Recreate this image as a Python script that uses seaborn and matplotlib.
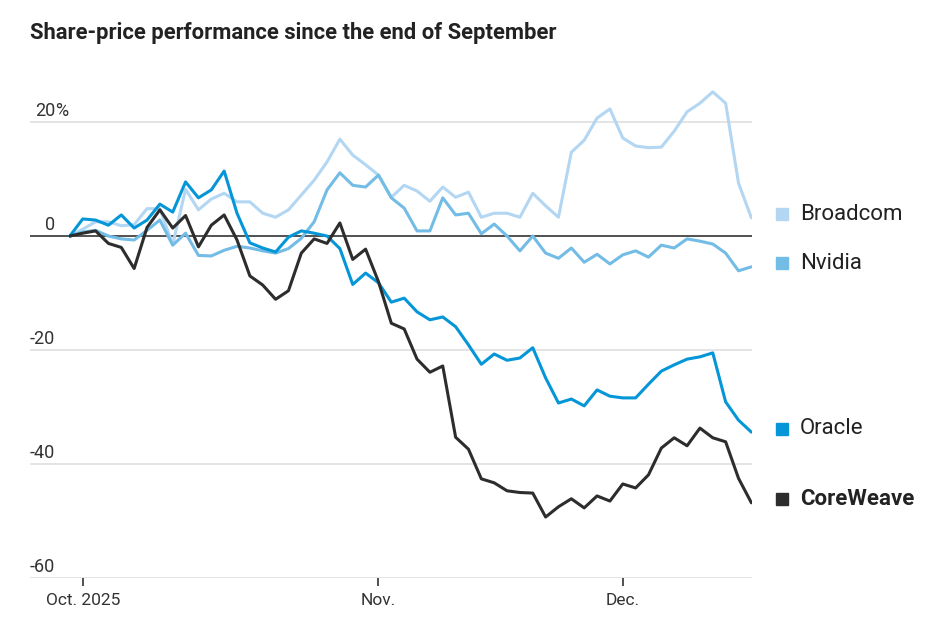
import pandas as pd
import matplotlib.pyplot as plt
import matplotlib.transforms as mtransforms
import seaborn as sns

# trading days from Sep 30 (index 0) to mid-December
broadcom = [0, 1.2, 2.5, 2.5, 1.8, 2.0, 4.8, 4.8, -1.5, 8.2,
            4.6, 6.5, 7.5, 6.0, 6.0, 4.0, 3.3, 4.6, 7.2, 9.8,
            13.0, 17.0, 14.2, 12.5, 10.7, 6.8, 8.9, 7.9, 6.1, 8.6,
            6.8, 7.7, 3.3, 4.0, 4.0, 3.3, 7.5, 5.3, 3.3, 14.7,
            16.8, 20.7, 22.3, 17.2, 15.8, 15.5, 15.6, 18.4, 21.8, 23.3,
            25.3, 23.3, 9.3, 3.2]
nvidia = [0, 0.7, 1.0, 0.0, -0.5, -0.7, 1.0, 2.8, -1.6, 0.5,
          -3.4, -3.5, -2.5, -1.8, -2.1, -2.6, -3.0, -2.2, -0.4, 2.5,
          8.1, 11.1, 8.9, 8.6, 10.7, 6.7, 4.9, 0.9, 0.9, 6.7,
          3.7, 4.0, 0.4, 2.1, 0.0, -2.6, 0.0, -3.0, -3.9, -2.1,
          -4.6, -3.2, -4.9, -3.3, -2.6, -3.7, -1.6, -2.1, -0.5, -0.9,
          -1.4, -3.0, -6.1, -5.4]
oracle = [0, 3.0, 2.8, 1.9, 3.7, 1.4, 2.8, 5.6, 4.2, 9.5,
          6.7, 8.1, 11.4, 4.0, -1.2, -2.1, -2.8, -0.2, 0.9, 0.5,
          0.0, -2.2, -8.5, -6.5, -8.2, -11.6, -10.9, -13.3, -14.7, -14.2,
          -15.9, -19.1, -22.5, -20.7, -21.8, -21.4, -19.6, -24.9, -29.3, -28.6,
          -29.8, -27.0, -28.1, -28.4, -28.4, -26.0, -23.7, -22.6, -21.6, -21.2,
          -20.5, -29.1, -32.3, -34.4]
coreweave = [0, 0.5, 0.9, -1.3, -2.0, -5.7, 1.5, 4.6, 1.4, 3.6,
             -1.9, 1.9, 3.7, -0.7, -7.0, -8.6, -11.1, -9.6, -3.0, -0.5,
             -1.3, 2.3, -4.1, -2.3, -8.0, -15.3, -16.3, -21.6, -23.9, -22.8,
             -35.3, -37.4, -42.6, -43.3, -44.7, -45.0, -45.1, -49.3, -47.5, -46.1,
             -47.7, -45.6, -46.5, -43.5, -44.2, -41.9, -37.2, -35.4, -36.8, -33.7,
             -35.4, -36.1, -42.5, -46.8]

companies = ["Broadcom", "Nvidia", "Oracle", "CoreWeave"]
colors = ["#b3d6f2", "#72bce6", "#0596d8", "#2d2d2d"]
month_ticks = [1, 24, 43]
month_labels = ["Oct. 2025", "Nov.", "Dec."]
y_ticks = [20, 0, -20, -40, -60]

series = dict(zip(companies, [broadcom, nvidia, oracle, coreweave]))
df = pd.concat([pd.DataFrame({"day": range(len(v)), "change": v, "company": k})
                for k, v in series.items()])

sns.set_style("white")
plt.rcParams['font.family'] = ['Liberation Sans Narrow', 'Roboto', 'DejaVu Sans']

fig = plt.figure(figsize=(9.27, 6.19), dpi=100)
ax = fig.add_axes([30 / 927, 1 - 578 / 619, 722 / 927, 493 / 619])

# grid lines
for yv in [20, -20, -40, -60]:
    ax.axhline(yv, color="#e2e2e2", lw=1.3, zorder=0)
ax.axhline(0, color="#333333", lw=1.2, zorder=1)

sns.lineplot(data=df, x="day", y="change", hue="company", hue_order=companies,
             palette=colors, linewidth=2.2, legend=False, ax=ax, zorder=3)

ax.set_xlim(-3.1, 53.05)
ax.set_ylim(-60, 26.5)
for s in ax.spines.values():
    s.set_visible(False)

ax.set_xticks(month_ticks)
ax.set_xticklabels(month_labels, fontsize=12.5, color="#333333")
ax.tick_params(axis="x", bottom=True, length=6, width=1.2, color="#333333",
               pad=5, direction="out")
ax.set_yticks([])
ax.set_xlabel("")
ax.set_ylabel("")

# y labels sit above the grid lines on the left
ytrans = mtransforms.blended_transform_factory(ax.transAxes, ax.transData)
for yv in y_ticks:
    ax.text(25 / 722, yv + 0.3, str(yv), ha="right", va="bottom",
            fontsize=13, color="#333333", transform=ytrans)
ax.text(25 / 722, 20.3, "%", ha="left", va="bottom", fontsize=13,
        color="#333333", transform=ytrans)

# end labels
for name, col in zip(companies, colors):
    yv = series[name][-1] + 0.6
    ax.plot([1.0416], [yv], marker="s", ms=9, color=col, transform=ytrans, clip_on=False)
    ax.text(1.0665, yv, name, ha="left", va="center", fontsize=16,
            color="#222222", transform=ytrans,
            fontweight="bold" if name == "CoreWeave" else "normal")

fig.text(30 / 927, 1 - 33 / 619, "Share-price performance since the end of September",
         ha="left", va="center", fontsize=15.8, fontweight="bold", color="#222222")

fig.savefig("out.png", dpi=100)
